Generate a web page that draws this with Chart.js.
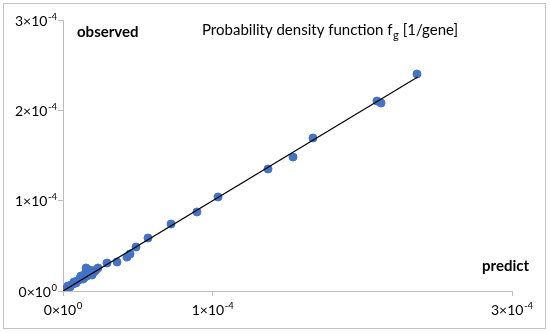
<!DOCTYPE html>
<html>
<head>
<meta charset="utf-8">
<script src="https://cdn.jsdelivr.net/npm/chart.js@4.4.0/dist/chart.umd.min.js"></script>
<style>
  html, body { margin: 0; padding: 0; background: #fff; }
  #wrap { width: 550px; height: 333px; }
</style>
</head>
<body>
<div id="wrap"><canvas id="c"></canvas></div>
<script>
// 觀測值 vs 預測值 (單位 1e-4)
const predictX = [
  0.000, 0.013, 0.027, 0.033, 0.047, 0.053, 0.067, 0.073, 0.087, 0.094,
  0.107, 0.114, 0.120, 0.134, 0.140, 0.147, 0.154, 0.160, 0.167, 0.180,
  0.180, 0.194, 0.207, 0.220, 0.154, 0.234, 0.294, 0.361, 0.428, 0.448,
  0.488, 0.568, 0.722, 0.895, 1.036, 1.370, 1.537, 1.670, 2.098, 2.125,
  2.365
];
const observedY = [
  0.011, 0.022, 0.033, 0.055, 0.044, 0.066, 0.077, 0.100, 0.089, 0.111,
  0.122, 0.144, 0.166, 0.133, 0.177, 0.155, 0.210, 0.166, 0.221, 0.199,
  0.232, 0.177, 0.210, 0.232, 0.255, 0.255, 0.310, 0.321, 0.376, 0.410,
  0.487, 0.587, 0.742, 0.875, 1.041, 1.351, 1.483, 1.694, 2.103, 2.081,
  2.402
];
const fitLine = [0, 2.37];        // y = x 參考線的起點與終點
const axisTicks = [0, 1, 2, 3];   // 軸刻度 (×10^-4)
const UNIT = 1e-4;

const FONT = "'Lato', 'Open Sans', sans-serif";

// 刻度文字拆成 底數 + 上標
function sciParts(value) {
  const n = Math.round(value / UNIT);
  return n === 0 ? ['0\u00D710', '0'] : [n + '\u00D710', '-4'];
}

function drawSci(ctx, value, x, y, align) {
  const [base, exp] = sciParts(value);
  ctx.font = '14px ' + FONT;
  const wb = ctx.measureText(base).width;
  ctx.font = '9.5px ' + FONT;
  const we = ctx.measureText(exp).width;
  const total = wb + we + 0.5;
  let x0 = align === 'right' ? x - total : x - total / 2;
  ctx.font = '14px ' + FONT;
  ctx.fillText(base, x0, y);
  ctx.font = '9.5px ' + FONT;
  ctx.fillText(exp, x0 + wb + 0.5, y - 4.5);
}

// 外框、刻度文字與標註
const decorPlugin = {
  id: 'decor',
  afterDraw(chart) {
    const { ctx, chartArea, scales: { x: xs, y: ys } } = chart;
    ctx.save();
    ctx.strokeStyle = '#c4c4c4';
    ctx.lineWidth = 1;
    ctx.strokeRect(3.5, 3.5, 542, 325);

    ctx.fillStyle = '#000';
    ctx.textBaseline = 'middle';
    ctx.textAlign = 'left';

    ys.ticks.forEach(t => drawSci(ctx, t.value, 57, ys.getPixelForValue(t.value) + 1, 'right'));
    xs.ticks.forEach(t => drawSci(ctx, t.value, xs.getPixelForValue(t.value), chartArea.bottom + 19, 'center'));

    ctx.font = 'bold 15px ' + FONT;
    ctx.fillText('observed', 77, 32);
    ctx.fillText('predict', 482, 266);

    // 標題 (f 帶下標 g)
    ctx.font = '15px ' + FONT;
    let x = 202;
    const t1 = 'Probability density function f';
    ctx.fillText(t1, x, 30);
    x += ctx.measureText(t1).width;
    ctx.font = '11px ' + FONT;
    ctx.fillText('g', x + 0.5, 35);
    x += ctx.measureText('g').width + 0.5;
    ctx.font = '15px ' + FONT;
    ctx.fillText(' [1/gene]', x, 30);
    ctx.restore();
  }
};

const axisCommon = {
  type: 'linear',
  min: 0,
  max: axisTicks[axisTicks.length - 1] * UNIT,
  grid: { drawOnChartArea: false, drawTicks: true, tickLength: 5, color: '#bdbdbd' },
  border: { display: true, color: '#bdbdbd', width: 1 },
  ticks: {
    stepSize: UNIT,
    color: 'rgba(0,0,0,0)',
    font: { family: FONT, size: 13 },
    maxRotation: 0,
    callback: v => sciParts(v).join('')
  }
};

new Chart(document.getElementById('c'), {
  type: 'scatter',
  data: {
    datasets: [
      {
        label: 'data',
        data: predictX.map((x, i) => ({ x: x * UNIT, y: observedY[i] * UNIT })),
        backgroundColor: '#4472C4',
        borderColor: '#4472C4',
        pointRadius: 4,
        pointHoverRadius: 4,
        order: 2
      },
      {
        label: 'fit',
        type: 'line',
        data: fitLine.map(v => ({ x: v * UNIT, y: v * UNIT })),
        borderColor: '#000',
        borderWidth: 1.2,
        pointRadius: 0,
        fill: false,
        order: 1
      }
    ]
  },
  options: {
    responsive: true,
    maintainAspectRatio: false,
    animation: false,
    layout: { padding: { top: 20, right: 38, left: 0, bottom: 0 } },
    plugins: {
      legend: { display: false },
      tooltip: { enabled: false }
    },
    scales: {
      x: {
        ...axisCommon,
        afterFit(scale) { scale.height = 42; }
      },
      y: {
        ...axisCommon,
        afterFit(scale) { scale.width = 63; }
      }
    }
  },
  plugins: [decorPlugin]
});
</script>
</body>
</html>
